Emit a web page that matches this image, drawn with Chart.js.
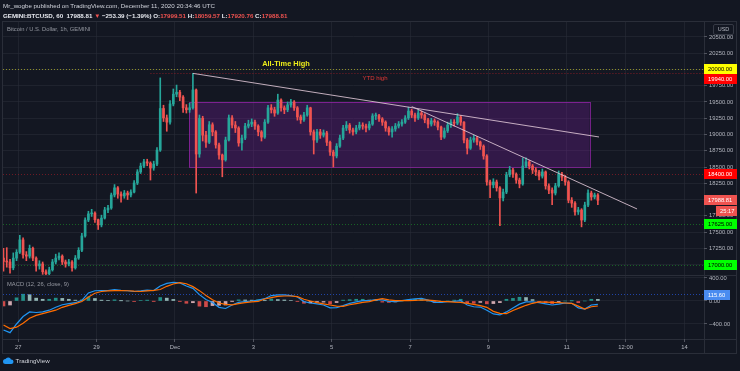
<!DOCTYPE html>
<html>
<head>
<meta charset="utf-8">
<title>BTCUSD 1h</title>
<script src="https://cdn.jsdelivr.net/npm/chart.js@4.4.1/dist/chart.umd.min.js"></script>
<style>
  body { margin: 0; width: 740px; height: 371px; background: #131722; position: relative; overflow: hidden;
         font-family: 'Liberation Sans', Arial, sans-serif; }
  canvas { position: absolute; left: 0; top: 0; }
  .txt { position: absolute; white-space: nowrap; line-height: 8px; }
  .frame { position: absolute; left: 2px; top: 21px; width: 733px; height: 331px; border: 1px solid #2a2e39; }
  .hline { position: absolute; height: 1px; background: #2a2e39; }
  .vline { position: absolute; width: 1px; background: #2a2e39; }
  .red { color: #ef5350; }
  .usd { position: absolute; left: 713px; top: 24px; width: 19px; height: 9px; border: 1px solid #363a45; border-radius: 2px;
         font-size: 5.5px; line-height: 9px; text-align: center; color: #b2b5be; }
</style>
</head>
<body>
<div class="frame"></div>
<div class="hline" style="left:2px; top:275px; width:734px"></div>
<div class="hline" style="left:2px; top:339px; width:734px"></div>
<div class="vline" style="left:704px; top:21px; height:332px"></div>
<canvas id="priceChart" width="740" height="371"></canvas>
<canvas id="macdChart" width="740" height="371"></canvas>
<div class="txt" style="left:3px; top:2px; font-size:6.2px; color:#d1d4dc">Mr_wogbe published on TradingView.com, December 11, 2020 20:34:46 UTC</div>
<div class="txt" style="left:3px; top:12px; font-size:6.2px; font-weight:bold; color:#e6e8ee">GEMINI:BTCUSD, 60&nbsp; 17988.81 <span class="red">▼</span> −253.39 (−1.39%) O:<span class="red">17999.51</span> H:<span class="red">18059.57</span> L:<span class="red">17920.76</span> C:<span class="red">17988.81</span></div>
<div class="txt" style="left:7px; top:25px; font-size:5.8px; color:#9598a1">Bitcoin / U.S. Dollar, 1h, GEMINI</div>
<div class="txt" style="left:7px; top:280px; font-size:5.8px; color:#9598a1">MACD (12, 26, close, 9)</div>
<div class="usd">USD</div>
<div class="txt" style="left:3px; top:357px; font-size:6.2px; color:#d1d4dc">
  <svg width="11" height="7" viewBox="0 0 22 14" style="vertical-align:-1px"><path d="M5 14a5 5 0 0 1 0-10 6 6 0 0 1 11 1 4.5 4.5 0 0 1 1 9z" fill="#2196f3"/></svg>
  TradingView
</div>

<script>
// ---- data (hours counted from 1 Dec 2020 00:00 UTC) ----
const candleStartHour = -105;
const candleStepHours = 2;
const firstOpen = 17100;
const closes = [
  17050,17040,16950,17100,17190,17380,17150,17130,17250,17100,
  16980,17010,16890,16860,16920,17040,17100,17130,17040,17010,
  17040,16950,17100,17220,17440,17685,17780,17790,17690,17610,
  17715,17840,17870,18070,18180,18085,18055,18100,18070,18115,
  18255,18425,18515,18580,18560,18485,18545,18760,19400,19255,
  19190,19470,19620,19650,19575,19410,19380,19410,19685,18700,
  19250,18990,18880,19150,19040,18840,18685,18610,18915,19255,
  19145,19100,18870,18945,19130,19160,19190,19130,19040,18960,
  19190,19410,19380,19330,19530,19410,19380,19455,19500,19410,
  19270,19225,19300,19410,19040,18915,19040,18990,19025,18880,
  18730,18670,18820,18945,19100,19145,19070,19040,19100,19145,
  19130,19100,19160,19285,19290,19240,19190,19100,19040,19085,
  19130,19160,19190,19255,19360,19300,19255,19330,19300,19225,
  19160,19210,19190,19115,18960,19055,19145,19190,19175,19270,
  19190,18915,18790,18915,18945,18885,18820,18670,18270,18225,
  18270,18180,18025,18115,18380,18455,18390,18300,18240,18515,
  18580,18515,18455,18425,18360,18425,18210,18145,18100,18210,
  18390,18345,18270,17990,17945,17810,17840,17685,17915,18100,
  18040,18070,17989
];
const highs = [
  17250,17260,17080,17180,17230,17450,17410,17200,17300,17270,
  17120,17060,17040,16920,16960,17080,17160,17180,17150,17070,
  17080,17060,17140,17260,17480,17720,17820,17850,17810,17700,
  17760,17880,17910,18100,18230,18200,18120,18140,18130,18150,
  18290,18460,18560,18620,18620,18580,18590,18800,19870,19450,
  19300,19520,19700,19760,19680,19600,19460,19480,19940,19700,
  19300,19280,19050,19200,19180,19060,18870,18700,18960,19300,
  19290,19200,19120,18990,19170,19220,19240,19220,19150,19060,
  19230,19450,19460,19420,19620,19550,19440,19500,19540,19520,
  19430,19300,19340,19450,19420,19070,19080,19080,19070,19050,
  18900,18760,18860,18990,19140,19200,19170,19100,19140,19190,
  19180,19160,19200,19320,19330,19310,19260,19210,19120,19120,
  19170,19200,19230,19290,19420,19390,19330,19380,19360,19320,
  19250,19250,19240,19210,19130,19100,19190,19230,19230,19320,
  19290,19200,18940,18960,18990,18970,18900,18840,18690,18300,
  18320,18300,18200,18160,18420,18510,18480,18410,18330,18640,
  18640,18600,18540,18490,18450,18470,18440,18240,18180,18250,
  18440,18420,18370,18290,18030,17970,17880,17860,17960,18150,
  18130,18100,18090
];
const lows = [
  16900,16960,16870,16920,17060,17170,17100,17060,17100,17060,
  16900,16930,16850,16780,16820,16900,17010,17070,17000,16960,
  16980,16900,16930,17080,17200,17420,17660,17740,17650,17540,
  17580,17700,17800,17850,18040,18020,17960,18020,18000,18040,
  18100,18230,18400,18490,18520,18300,18450,18520,18740,19200,
  19050,19160,19440,19580,19520,19340,19330,19340,19390,18100,
  18650,18900,18800,18860,18980,18790,18620,18350,18590,18900,
  19100,19030,18820,18760,18920,19100,19120,19080,18980,18900,
  18940,19170,19330,19280,19310,19360,19320,19350,19420,19370,
  19220,19170,19200,19280,18990,18700,18880,18940,18960,18830,
  18680,18500,18640,18800,18920,19060,19020,18990,19010,19070,
  19080,19040,19070,19140,19230,19200,19140,19050,18990,18960,
  19050,19100,19130,19170,19230,19260,19200,19230,19250,19180,
  19100,19130,19140,19070,18920,18940,19030,19110,19130,19150,
  19140,18870,18700,18770,18880,18840,18770,18620,18220,18030,
  18180,18130,17600,17980,18090,18350,18340,18250,18180,18220,
  18490,18470,18400,18370,18300,18330,18160,18090,17920,18070,
  18190,18290,18220,17950,17880,17760,17770,17580,17660,17890,
  17990,18010,17920
];

const macdStartHour = -105;
const macdStepHours = 4;
const macdValues = [
  -504,-551,-400,-270,-190,-200,-190,-160,-110,-65,
  -45,-30,10,140,178,180,182,200,185,178,
  165,175,190,182,260,305,322,315,260,220,
  110,25,-25,-110,-130,-70,-25,-12,0,15,
  40,95,105,105,95,70,-10,-35,-50,-70,
  -120,-115,-80,-42,-15,5,6,25,20,-5,
  -10,5,25,38,45,15,-25,-25,-12,-5,
  5,-70,-100,-105,-160,-225,-243,-190,-120,-55,
  -15,-15,-28,-50,-70,-55,-35,-40,-120,-140,
  -70,-59
];
const signalValues = [
  -417,-480,-455,-388,-300,-250,-220,-190,-160,-110,
  -75,-45,-10,70,135,165,175,180,182,178,
  170,165,175,185,200,255,295,318,300,250,
  180,95,20,-35,-60,-68,-45,-30,-15,-8,
  35,60,80,87,87,75,30,0,-29,-50,
  -70,-88,-95,-65,-45,-25,-10,20,40,20,
  6,5,6,10,17,15,5,-5,-12,-20,
  -25,-41,-60,-80,-110,-180,-215,-220,-165,-120,
  -75,-40,-15,-20,-25,-29,-35,-41,-90,-140,
  -100,-87
];
const histValues = [
  -87,-70,55,118,110,50,30,30,50,45,
  30,15,20,70,43,15,7,20,3,0,
  -5,10,15,-3,60,50,27,-3,-40,-30,
  -90,-100,-80,-75,-70,-2,20,18,15,23,
  5,35,25,18,8,-5,-40,-35,-21,-20,
  -50,-27,15,23,30,30,16,5,-20,-25,
  -16,0,19,28,28,0,-30,-20,0,15,
  30,-29,-40,-25,-50,-45,-28,30,45,65,
  60,25,-13,-30,-45,-26,0,1,-30,0,
  30,28
];

const dayTickHours = [-96, -48, 0, 48, 96, 144, 192, 240, 276, 312];
const dayTickLabels = ['27', '29', 'Dec', '3', '5', '7', '9', '11', '12:00', '14'];
const priceTicks = [17000, 17250, 17500, 17750, 18000, 18250, 18500, 18750, 19000, 19250, 19500, 19750, 20000, 20250, 20500];
const macdTicks = [400, 0, -400];

const levelPrices = [20000, 19940, 18400, 17625, 17000];
const levelFromHour = [null, -15, null, null, null];
const lastPrice = 17988.81;
const countdown = '25:17';
const macdMarker = 115.60;

const rangeBoxHours = [8.6, 254];
const rangeBoxPrices = [18500, 19500];
const trendA = [[11, 19940], [259.7, 18962]];
const trendB = [[145, 19430], [283, 17855]];

// ---- styling ----
const FONT = "'Liberation Sans', Arial, sans-serif";
const UP = '#26a69a', DOWN = '#ef5350';
const GRID = 'rgba(42, 46, 57, 0.55)';
const TICK_TEXT = '#b2b5be';
const X_MIN = -105.3, X_MAX = 324;

Chart.defaults.font.family = FONT;

const levelStyles = [
  { line: 'rgba(190,190,40,0.7)', bg: '#ffff00', fg: '#000' },
  { line: 'rgba(200,30,40,0.6)', bg: '#ff0000', fg: '#fff' },
  { line: 'rgba(200,30,40,0.5)', bg: '#ff0000', fg: '#fff' },
  { line: 'rgba(30,160,40,0.55)', bg: '#00ff00', fg: '#000' },
  { line: 'rgba(30,160,40,0.55)', bg: '#00ff00', fg: '#000' }
];
const notes = [
  { text: 'All-Time High', hour: 68, price: 20084, color: '#ecec1a', font: 'bold 7.4px ' + FONT },
  { text: 'YTD high', hour: 122.5, price: 19869, color: '#e53935', font: '6px ' + FONT }
];

const opens = closes.map((c, i) => i === 0 ? firstOpen : closes[i - 1]);
const candleHours = closes.map((c, i) => candleStartHour + i * candleStepHours);
const candleColors = closes.map((c, i) => c >= opens[i] ? UP : DOWN);
const bodyData = closes.map((c, i) => ({ x: candleHours[i], y: [opens[i], c] }));
const wickData = closes.map((c, i) => ({ x: candleHours[i], y: [lows[i], highs[i]] }));

const macdHours = macdValues.map((v, i) => macdStartHour + i * macdStepHours);
const histColors = histValues.map((v, i) => {
  const prev = i === 0 ? v : histValues[i - 1];
  if (v >= 0) return v >= prev ? 'rgba(38,166,154,0.85)' : 'rgba(178,223,219,0.8)';
  return v <= prev ? 'rgba(239,83,80,0.85)' : 'rgba(255,205,210,0.8)';
});

function fmt(v) {
  return (v < 0 ? '\u2212' : '') + Math.abs(v).toFixed(2);
}

function drawTag(ctx, x, yc, w, text, bg, fg) {
  const y = Math.round(yc);
  ctx.fillStyle = bg;
  ctx.fillRect(x, y - 5, w, 10);
  ctx.fillStyle = fg;
  ctx.font = '5.8px ' + FONT;
  ctx.textAlign = 'left';
  ctx.textBaseline = 'middle';
  ctx.fillText(text, x + 4, y + 0.5);
}

const levelPlugin = {
  id: 'levels',
  beforeDatasetsDraw(chart) {
    const { ctx, chartArea: a, scales: { x, y } } = chart;
    ctx.save();
    const bx1 = x.getPixelForValue(rangeBoxHours[0]), bx2 = x.getPixelForValue(rangeBoxHours[1]);
    const by1 = y.getPixelForValue(rangeBoxPrices[1]), by2 = y.getPixelForValue(rangeBoxPrices[0]);
    ctx.fillStyle = 'rgba(123, 31, 162, 0.3)';
    ctx.fillRect(bx1, by1, bx2 - bx1, by2 - by1);
    ctx.strokeStyle = 'rgba(156, 39, 176, 0.7)';
    ctx.lineWidth = 1;
    ctx.strokeRect(Math.round(bx1) + 0.5, Math.round(by1) + 0.5, Math.round(bx2 - bx1), Math.round(by2 - by1));

    ctx.setLineDash([1, 2]);
    levelPrices.forEach((p, i) => {
      const yy = Math.round(y.getPixelForValue(p)) + 0.5;
      const xs = levelFromHour[i] === null ? a.left : x.getPixelForValue(levelFromHour[i]);
      ctx.strokeStyle = levelStyles[i].line;
      ctx.beginPath();
      ctx.moveTo(xs, yy);
      ctx.lineTo(a.right, yy);
      ctx.stroke();
    });
    ctx.restore();
  },
  afterDraw(chart) {
    const { ctx, chartArea: a, scales: { x, y } } = chart;
    ctx.save();
    notes.forEach(n => {
      ctx.font = n.font;
      ctx.fillStyle = n.color;
      ctx.textAlign = 'center';
      ctx.textBaseline = 'middle';
      ctx.fillText(n.text, x.getPixelForValue(n.hour), y.getPixelForValue(n.price));
    });

    const tags = levelPrices.map((p, i) => ({ y: y.getPixelForValue(p), text: p.toFixed(2), bg: levelStyles[i].bg, fg: levelStyles[i].fg }));
    tags.push({ y: y.getPixelForValue(lastPrice), text: lastPrice.toFixed(2), bg: '#ef5350', fg: '#fff', last: true });
    tags.sort((t1, t2) => t1.y - t2.y);
    let prevY = -100;
    tags.forEach(t => {
      if (t.y < prevY + 10) t.y = prevY + 10;
      drawTag(ctx, a.right, t.y, 33, t.text, t.bg, t.fg);
      prevY = t.y;
      if (t.last) {
        drawTag(ctx, a.right + 12, t.y + 11, 21, countdown, '#ef5350', '#fff');
        prevY = t.y + 11;
      }
    });
    ctx.restore();
  }
};

const macdPlugin = {
  id: 'macdMarker',
  afterDraw(chart) {
    const { ctx, chartArea: a, scales: { y } } = chart;
    const yy = Math.round(y.getPixelForValue(macdMarker)) + 0.5;
    ctx.save();
    ctx.strokeStyle = 'rgba(41, 98, 255, 0.6)';
    ctx.setLineDash([1, 2]);
    ctx.beginPath();
    ctx.moveTo(a.left, yy);
    ctx.lineTo(a.right, yy);
    ctx.stroke();
    ctx.setLineDash([]);
    drawTag(ctx, a.right, yy, 26, macdMarker.toFixed(2), '#4a8cf0', '#fff');
    ctx.restore();
  }
};

function timeAxis(showLabels) {
  return {
    type: 'linear',
    min: X_MIN,
    max: X_MAX,
    offset: false,
    grid: { color: GRID, offset: false, drawTicks: showLabels, tickLength: 3, tickColor: '#50535e' },
    border: { display: false },
    ticks: {
      display: showLabels,
      autoSkip: false,
      maxRotation: 0,
      padding: 2,
      color: TICK_TEXT,
      font: { size: 5.8 },
      callback: v => dayTickLabels[dayTickHours.indexOf(v)]
    },
    afterBuildTicks: s => { s.ticks = dayTickHours.map(v => ({ value: v })); },
    afterFit: s => { s.height = showLabels ? 14 : 0; }
  };
}

function valueAxis(min, max, tickValues) {
  return {
    position: 'right',
    min: min,
    max: max,
    grid: { color: GRID, tickLength: 3, tickColor: '#50535e' },
    border: { display: false },
    ticks: { autoSkip: false, padding: 2, color: TICK_TEXT, font: { size: 5.8 }, callback: v => fmt(v) },
    afterBuildTicks: s => { s.ticks = tickValues.map(v => ({ value: v })); },
    afterFit: s => { s.width = 32; }
  };
}

new Chart(document.getElementById('priceChart'), {
  type: 'bar',
  data: {
    datasets: [
      { type: 'bar', data: wickData, backgroundColor: candleColors, barThickness: 1, grouped: false, order: 3 },
      { type: 'bar', data: bodyData, backgroundColor: candleColors, barThickness: 2, minBarLength: 1, grouped: false, order: 2 },
      { type: 'line', data: trendA.map(p => ({ x: p[0], y: p[1] })), borderColor: 'rgba(225, 200, 215, 0.85)', borderWidth: 1, pointRadius: 0, order: 1 },
      { type: 'line', data: trendB.map(p => ({ x: p[0], y: p[1] })), borderColor: 'rgba(225, 200, 215, 0.85)', borderWidth: 1, pointRadius: 0, order: 1 }
    ]
  },
  options: {
    responsive: false,
    animation: false,
    devicePixelRatio: 1,
    layout: { padding: { left: 3, top: 21, right: 4, bottom: 96 } },
    plugins: { legend: { display: false }, tooltip: { enabled: false } },
    scales: {
      x: timeAxis(false),
      y: valueAxis(16840, 20745, priceTicks)
    }
  },
  plugins: [levelPlugin]
});

new Chart(document.getElementById('macdChart'), {
  type: 'bar',
  data: {
    datasets: [
      { type: 'bar', data: histValues.map((v, i) => ({ x: macdHours[i], y: v })), backgroundColor: histColors, barThickness: 3, grouped: false, order: 3 },
      { type: 'line', data: macdValues.map((v, i) => ({ x: macdHours[i], y: v })), borderColor: '#2196f3', borderWidth: 1.2, pointRadius: 0, order: 2 },
      { type: 'line', data: signalValues.map((v, i) => ({ x: macdHours[i], y: v })), borderColor: '#ff6d00', borderWidth: 1.2, pointRadius: 0, order: 1 }
    ]
  },
  options: {
    responsive: false,
    animation: false,
    devicePixelRatio: 1,
    layout: { padding: { left: 3, top: 275, right: 4, bottom: 18 } },
    plugins: { legend: { display: false }, tooltip: { enabled: false } },
    scales: {
      x: timeAxis(true),
      y: valueAxis(-661, 452, macdTicks)
    }
  },
  plugins: [macdPlugin]
});
</script>
</body>
</html>
